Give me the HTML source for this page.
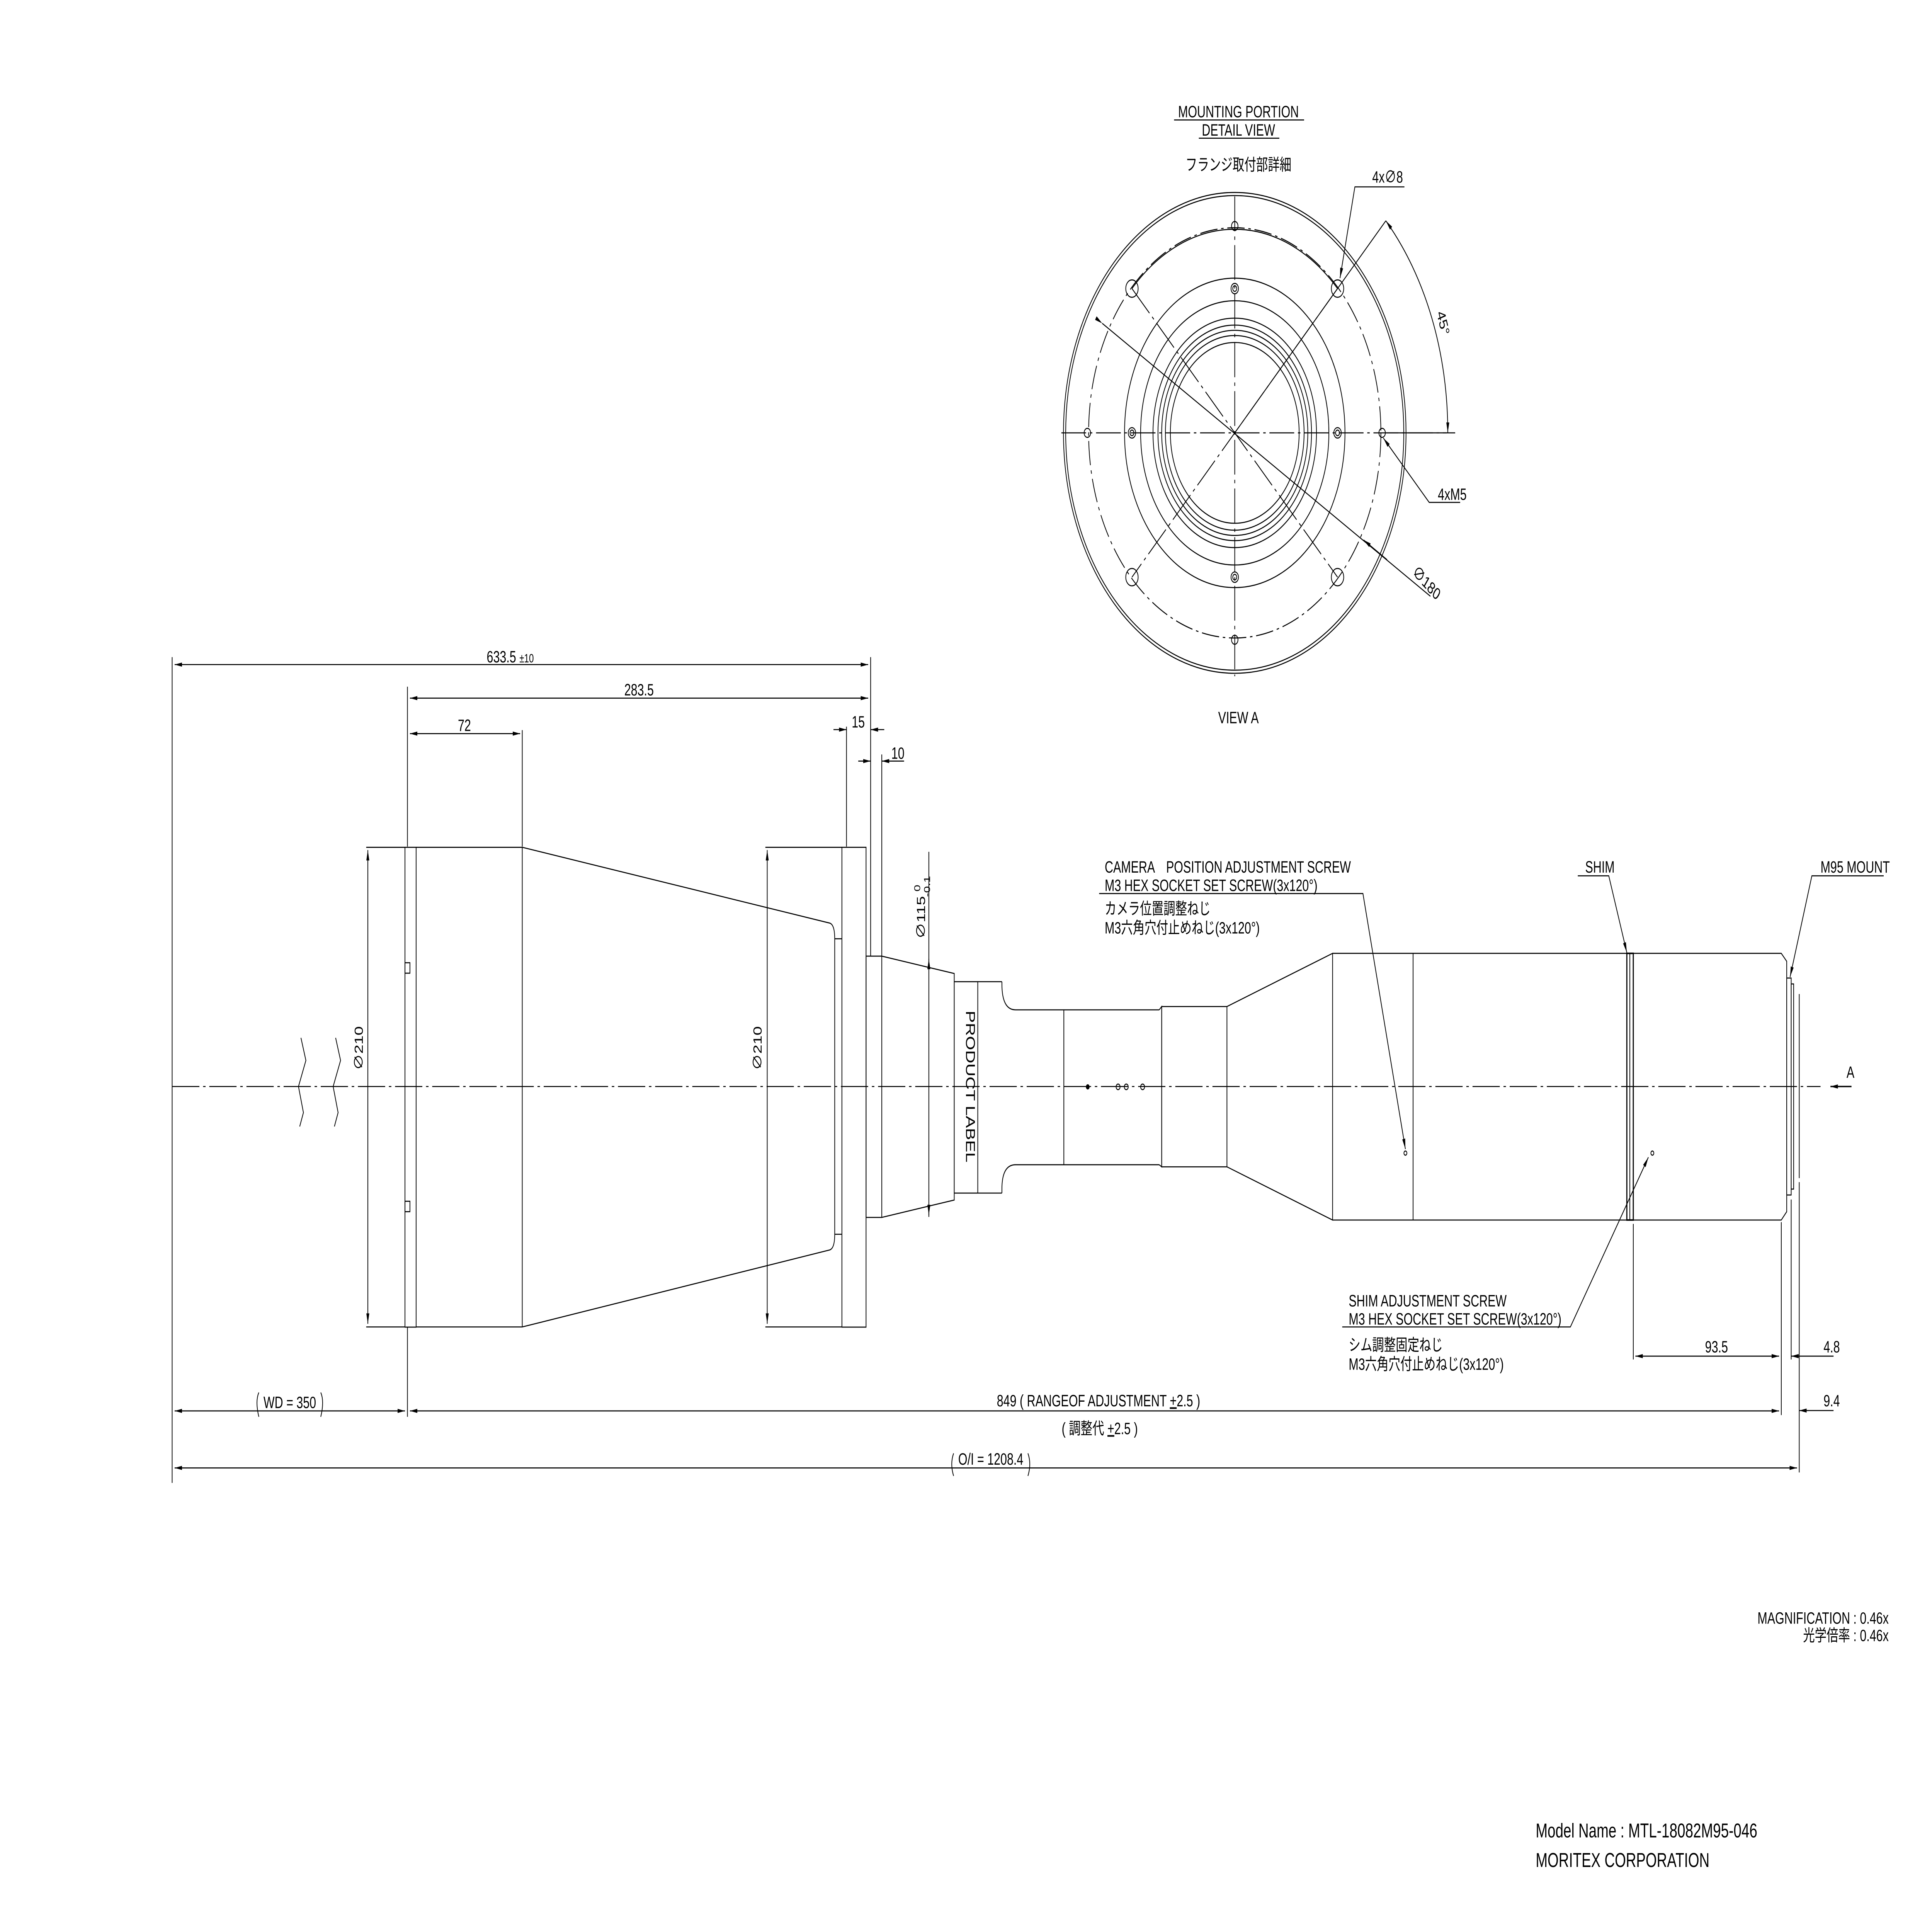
<!DOCTYPE html>
<html><head><meta charset="utf-8">
<style>
html,body{margin:0;padding:0;background:#fff;overflow:hidden;}
svg{display:block;position:fixed;left:0;top:0;width:100vw;height:100vh;}
text{font-family:"Liberation Sans","Noto Sans CJK JP",sans-serif;fill:#000;}
</style></head>
<body>
<svg viewBox="0 0 1560 1103.3" preserveAspectRatio="none" xmlns="http://www.w3.org/2000/svg">
<defs>
<marker id="ae" viewBox="0 0 10 4" refX="10" refY="2" markerWidth="6" markerHeight="2.4" markerUnits="userSpaceOnUse" orient="auto"><path d="M0,0 L10,2 L0,4 z" fill="#000"/></marker>
<marker id="as" viewBox="0 0 10 4" refX="0" refY="2" markerWidth="6" markerHeight="2.4" markerUnits="userSpaceOnUse" orient="auto"><path d="M10,0 L0,2 L10,4 z" fill="#000"/></marker>
</defs>
<g fill="none" stroke="#000" stroke-width="0.6">
<circle cx="997" cy="249" r="138.3"/>
<circle cx="997" cy="249" r="136.5"/>
<circle cx="997" cy="249" r="118" stroke-dasharray="14,3,2,3"/>
<path d="M914,166 A118,118 0 0 1 1080,166"/>
<circle cx="997" cy="249" r="89"/>
<circle cx="997" cy="249" r="76"/>
<circle cx="997" cy="249" r="66"/>
<circle cx="997" cy="249" r="62"/>
<circle cx="997" cy="249" r="59"/>
<circle cx="997" cy="249" r="56"/>
<circle cx="997" cy="249" r="52"/>
<line x1="857" y1="249" x2="1168" y2="249" stroke-dasharray="20,3,2,3"/>
<line x1="997" y1="113" x2="997" y2="389" stroke-dasharray="20,3,2,3"/>
<line x1="914" y1="166" x2="1080" y2="332" stroke-dasharray="20,3,2,3"/>
<line x1="1080" y1="166" x2="914" y2="332" stroke-dasharray="20,3,2,3"/>
<circle cx="878" cy="249" r="2.6"/><circle cx="1116" cy="249" r="2.6"/>
<circle cx="997" cy="130" r="2.6"/><circle cx="997" cy="368" r="2.6"/>
<circle cx="914" cy="166" r="5"/><circle cx="1080" cy="166" r="5"/>
<circle cx="914" cy="332" r="5"/><circle cx="1080" cy="332" r="5"/>
<circle cx="914" cy="249" r="3"/><circle cx="914" cy="249" r="1.6"/>
<circle cx="1080" cy="249" r="3"/><circle cx="1080" cy="249" r="1.6"/>
<circle cx="997" cy="166" r="3"/><circle cx="997" cy="166" r="1.6"/>
<circle cx="997" cy="332" r="3"/><circle cx="997" cy="332" r="1.6"/>
<line x1="890" y1="186" x2="1155" y2="343" marker-start="url(#ae)"/>
<line x1="1120" y1="322" x2="1101" y2="310.6" marker-end="url(#ae)"/>
<line x1="997" y1="249" x2="1119" y2="127"/>
<line x1="1119" y1="249" x2="1175" y2="249"/>
<path d="M1119,127 A172,172 0 0 1 1169,249" marker-start="url(#as)" marker-end="url(#ae)"/>
<polyline points="1134,107.5 1094,107.5 1082,160" marker-end="url(#ae)"/>
<polyline points="1179,289 1154,289 1117,252" marker-end="url(#ae)"/>
<line x1="948" y1="69" x2="1053" y2="69"/>
<line x1="968" y1="79.5" x2="1033" y2="79.5"/>

<line x1="139" y1="625" x2="1470" y2="625" stroke-dasharray="22,3,2,3"/>
<polyline points="243,597 247,610 241,625 245,640 242,648"/>
<polyline points="271,597 275,610 269,625 273,640 270,648"/>
<rect x="327" y="487.4" width="9" height="276"/>
<line x1="336" y1="487.4" x2="421.7" y2="487.4"/>
<line x1="336" y1="763.3" x2="421.7" y2="763.3"/>
<line x1="421.7" y1="487.4" x2="421.7" y2="763.3"/>
<rect x="327" y="553.8" width="4" height="6"/>
<rect x="327" y="691" width="4" height="6"/>
<path d="M421.7,487.4 L670,531 Q674,532 674,540 L674,710 Q674,718 670,719 L421.7,763.3"/>
<rect x="679.8" y="487.4" width="19.5" height="276"/>
<line x1="674" y1="540" x2="679.8" y2="540"/>
<line x1="674" y1="710" x2="679.8" y2="710"/>
<rect x="699.3" y="550" width="12.7" height="150.3"/>
<path d="M712,550 L770.5,560 L770.5,690.3 L712,700.3"/>
<rect x="770.5" y="564.7" width="19" height="121.6"/>
<line x1="789.5" y1="564.7" x2="809" y2="564.7"/>
<line x1="789.5" y1="686.3" x2="809" y2="686.3"/>
<path d="M809,564.7 L809,566 Q809,580.9 820,580.9 L936,580.9"/>
<path d="M809,686.3 L809,684 Q809,670 820,670 L936,670"/>
<line x1="859" y1="580.9" x2="859" y2="670"/>
<path d="M936,580.9 L938,579 L938,671.2 L936,670"/>
<rect x="938" y="579" width="52.7" height="92.2"/>
<path d="M990.7,579 L1076,548.4 L1076,701.8 L990.7,671.2"/>
<line x1="1076" y1="548.4" x2="1313.6" y2="548.4"/>
<line x1="1076" y1="701.8" x2="1313.6" y2="701.8"/>
<line x1="1141" y1="548.4" x2="1141" y2="701.8"/>
<rect x="1313.6" y="548.4" width="5.2" height="153.4" stroke-width="0.9"/>
<line x1="1316" y1="548.4" x2="1316" y2="701.8"/>
<path d="M1318.8,548.4 L1438.3,548.4 L1442.7,553 L1442.7,697 L1438.3,701.8 L1318.8,701.8"/>
<rect x="1442.7" y="562.6" width="3.6" height="124.8"/>
<rect x="1446.3" y="566" width="2" height="118"/>
<line x1="1452.8" y1="571.8" x2="1452.8" y2="677.7"/>
<circle cx="878.3" cy="625.2" r="1.2" fill="#000"/>
<circle cx="902.8" cy="625.2" r="1.6"/><circle cx="909.4" cy="625.2" r="1.6"/><circle cx="922.6" cy="625.2" r="1.6"/>
<circle cx="1134.8" cy="663.3" r="1.2"/><circle cx="1334.2" cy="663.3" r="1.2"/>
<polyline points="887.5,514 1100.5,514 1134.8,661" marker-end="url(#ae)"/>
<polyline points="1274,503.8 1299,503.8 1313.6,548" marker-end="url(#ae)"/>
<polyline points="1521,503.8 1463,503.8 1445.4,562" marker-end="url(#ae)"/>
<polyline points="1083.8,763.3 1268,763.3 1331,665.7" marker-end="url(#ae)"/>
<line x1="1495" y1="625" x2="1478" y2="625" marker-end="url(#ae)" stroke-width="0.8"/>

<line x1="139" y1="378" x2="139" y2="853"/>
<line x1="703" y1="378" x2="703" y2="550"/>
<line x1="329" y1="395" x2="329" y2="487"/>
<line x1="421.7" y1="420" x2="421.7" y2="487"/>
<line x1="683.5" y1="418" x2="683.5" y2="487"/>
<line x1="712" y1="434" x2="712" y2="550"/>
<line x1="141" y1="382.3" x2="701" y2="382.3" marker-start="url(#as)" marker-end="url(#ae)"/>
<line x1="331" y1="401.6" x2="701" y2="401.6" marker-start="url(#as)" marker-end="url(#ae)"/>
<line x1="331" y1="422" x2="420" y2="422" marker-start="url(#as)" marker-end="url(#ae)"/>
<line x1="673" y1="419.7" x2="683.5" y2="419.7" marker-end="url(#ae)"/>
<line x1="714" y1="419.7" x2="703" y2="419.7" marker-end="url(#ae)"/>
<line x1="693" y1="437.8" x2="703" y2="437.8" marker-end="url(#ae)"/>
<line x1="730" y1="437.8" x2="712" y2="437.8" marker-end="url(#ae)"/>
<line x1="295.7" y1="487.4" x2="327" y2="487.4"/>
<line x1="295.7" y1="763.3" x2="327" y2="763.3"/>
<line x1="297" y1="489" x2="297" y2="761.5" marker-start="url(#as)" marker-end="url(#ae)"/>
<line x1="618" y1="487.4" x2="679.8" y2="487.4"/>
<line x1="618" y1="763.3" x2="679.8" y2="763.3"/>
<line x1="619.5" y1="489" x2="619.5" y2="761.5" marker-start="url(#as)" marker-end="url(#ae)"/>
<line x1="750" y1="490" x2="750" y2="700"/>
<line x1="750" y1="556" x2="750" y2="551.5" marker-end="url(#ae)"/>
<line x1="750" y1="694" x2="750" y2="699" marker-end="url(#ae)"/>
<line x1="329" y1="763.3" x2="329" y2="815"/>
<line x1="141" y1="811.6" x2="327" y2="811.6" marker-start="url(#as)" marker-end="url(#ae)"/>
<line x1="331" y1="811.6" x2="1436.5" y2="811.6" marker-start="url(#as)" marker-end="url(#ae)"/>
<line x1="141" y1="844.4" x2="1451" y2="844.4" marker-start="url(#as)" marker-end="url(#ae)"/>
<line x1="1318.8" y1="704" x2="1318.8" y2="782"/>
<line x1="1438.3" y1="703" x2="1438.3" y2="814"/>
<line x1="1446.3" y1="690" x2="1446.3" y2="782"/>
<line x1="1452.8" y1="680" x2="1452.8" y2="847"/>
<line x1="1320.5" y1="780.1" x2="1436.5" y2="780.1" marker-start="url(#as)" marker-end="url(#ae)"/>
<line x1="1480.5" y1="780.1" x2="1446.3" y2="780.1" marker-end="url(#ae)"/>
<line x1="1480.5" y1="811.4" x2="1452.8" y2="811.4" marker-end="url(#ae)"/>
<path d="M209,801 Q206,806 209,815"/><path d="M259,801 Q262,806 259,815"/>
<path d="M770,836 Q767,842 770,849"/><path d="M830,836 Q833,842 830,849"/>
</g>

<g font-size="9.5">
<text x="1000" y="67.5" text-anchor="middle">MOUNTING PORTION</text>
<text x="1000" y="78" text-anchor="middle">DETAIL VIEW</text>
<text x="1000" y="98" text-anchor="middle">フランジ取付部詳細</text>
<text x="1000" y="416" text-anchor="middle">VIEW A</text>
<text x="1108" y="105">4x∅8</text>
<text x="1161" y="287.5">4xM5</text>
<text x="1140" y="330" transform="rotate(38 1140 330)">∅180</text>
<text x="1160" y="180" transform="rotate(72 1160 180)">45°</text>
<text x="412" y="381" text-anchor="middle">633.5 <tspan font-size="7">±10</tspan></text>
<text x="516" y="400" text-anchor="middle">283.5</text>
<text x="375" y="420.5" text-anchor="middle">72</text>
<text x="693" y="418.5" text-anchor="middle">15</text>
<text x="725" y="436.5" text-anchor="middle">10</text>
<text x="293" y="603" transform="rotate(-90 293 603)" text-anchor="middle">∅210</text>
<text x="615" y="603" transform="rotate(-90 615 603)" text-anchor="middle">∅210</text>
<text x="747" y="522" transform="rotate(-90 747 522)" text-anchor="middle">∅115 <tspan font-size="7" dy="-4">0</tspan><tspan font-size="7" dx="-7" dy="8">-0.1</tspan></text>
<text x="780" y="625" transform="rotate(90 780 625)" text-anchor="middle" font-size="10.5">PRODUCT LABEL</text>
<text x="892" y="502">CAMERA　POSITION ADJUSTMENT SCREW</text>
<text x="892" y="512.5">M3 HEX SOCKET SET SCREW(3x120°)</text>
<text x="892" y="526">カメラ位置調整ねじ</text>
<text x="892" y="537">M3六角穴付止めねじ(3x120°)</text>
<text x="1280" y="502">SHIM</text>
<text x="1470" y="502">M95 MOUNT</text>
<text x="1491" y="620">A</text>
<text x="1089" y="751.5">SHIM ADJUSTMENT SCREW</text>
<text x="1089" y="762">M3 HEX SOCKET SET SCREW(3x120°)</text>
<text x="1089" y="777">シム調整固定ねじ</text>
<text x="1089" y="788">M3六角穴付止めねじ(3x120°)</text>
<text x="1386" y="778" text-anchor="middle">93.5</text>
<text x="1479" y="778" text-anchor="middle">4.8</text>
<text x="1479" y="809" text-anchor="middle">9.4</text>
<text x="234" y="810" text-anchor="middle">WD = 350</text>
<text x="887" y="809" text-anchor="middle">849 ( RANGEOF ADJUSTMENT <tspan text-decoration="underline">+</tspan>2.5 )</text>
<text x="888" y="825" text-anchor="middle">( 調整代 <tspan text-decoration="underline">+</tspan>2.5 )</text>
<text x="800" y="842.5" text-anchor="middle">O/I = 1208.4</text>
<text x="1525" y="934" text-anchor="end">MAGNIFICATION : 0.46x</text>
<text x="1525" y="944" text-anchor="end">光学倍率 : 0.46x</text>
</g>
<g font-size="11.5">
<text x="1240" y="1057">Model Name : MTL-18082M95-046</text>
<text x="1240" y="1074">MORITEX CORPORATION</text>
</g>
</svg>
</body></html>
